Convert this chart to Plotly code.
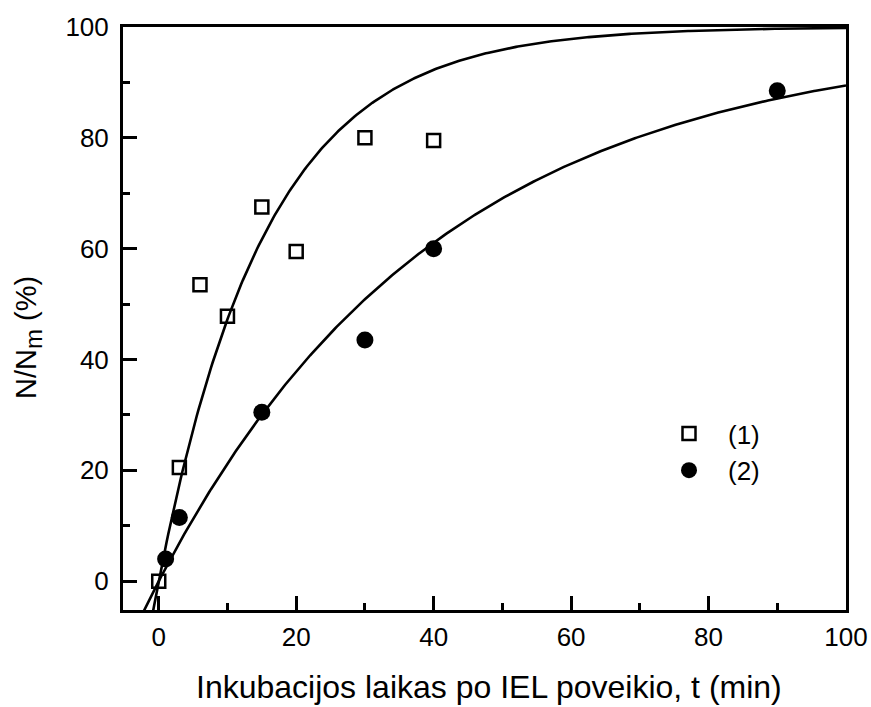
import numpy as np
import plotly.graph_objects as go

# Measured data (time in minutes, relative fraction in %)
t1 = [0, 3, 6, 10, 15, 20, 30, 40]
y1 = [0, 20.5, 53.5, 47.8, 67.5, 59.5, 80, 79.5]
t2 = [1, 3, 15, 30, 40, 90]
y2 = [4, 11.5, 30.5, 43.5, 60, 88.5]

# Exponential saturation fits: y = A * (1 - exp(-k * t))
fit1_A, fit1_k = 100.0, 0.064
fit2_A, fit2_k = 98.0, 0.0244

x_ticks = [0, 20, 40, 60, 80, 100]
y_ticks = [0, 20, 40, 60, 80, 100]

t_fit = np.linspace(-3, 100, 400)
f1 = fit1_A * (1 - np.exp(-fit1_k * t_fit))
f2 = fit2_A * (1 - np.exp(-fit2_k * t_fit))

FONT = "Liberation Sans, Arial, sans-serif"

# plot area in pixels
L, R, T, B = 123, 25, 27, 97
W, H = 871, 707
PW, PH = W - L - R, H - T - B

fig = go.Figure()
fig.add_trace(go.Scatter(x=t_fit, y=f1, mode="lines", line=dict(color="black", width=2.6),
                         showlegend=False, hoverinfo="skip"))
fig.add_trace(go.Scatter(x=t_fit, y=f2, mode="lines", line=dict(color="black", width=2.6),
                         showlegend=False, hoverinfo="skip"))
fig.add_trace(go.Scatter(x=t1, y=y1, mode="markers", name="(1)",
                         marker=dict(symbol="square-open", size=13, color="black",
                                     line=dict(color="black", width=2.5))))
fig.add_trace(go.Scatter(x=t2, y=y2, mode="markers", name="(2)",
                         marker=dict(symbol="circle", size=17, color="black")))

axis_common = dict(
    showgrid=False, zeroline=False, showline=True, linecolor="black", linewidth=3,
    mirror=True, ticks="inside", ticklen=14, tickwidth=2.5, tickcolor="black",
    tickfont=dict(family=FONT, size=26, color="black"), automargin=False,
    minor=dict(ticks="inside", ticklen=7, tickwidth=2.5, tickcolor="black", dtick=10),
)

fig.update_layout(
    width=W, height=H,
    margin=dict(l=L, r=R, t=T, b=B, autoexpand=False),
    paper_bgcolor="white", plot_bgcolor="white",
    font=dict(family=FONT, color="black"),
    xaxis=dict(range=[-5.2, 100], tickvals=x_ticks, ticklabelstandoff=2, **axis_common),
    yaxis=dict(range=[-5.2, 100], tickvals=y_ticks, ticklabelstandoff=6, **axis_common),
    legend=dict(x=(689 - 39 - L) / PW, y=(H - B - 410) / PH, xanchor="left", yanchor="top",
                font=dict(family=FONT, size=26), bgcolor="rgba(0,0,0,0)",
                tracegroupgap=0, itemwidth=68),
    annotations=[
        dict(text="N/N<sub><span style='font-size:24px'>m</span></sub> (%)",
             textangle=-90, xref="paper", yref="paper",
             x=-(L - 28) / PW, y=(H - B - 338) / PH, xanchor="center", yanchor="middle",
             showarrow=False, font=dict(family=FONT, size=29, color="black")),
        dict(text="Inkubacijos laikas po IEL poveikio, t (min)",
             xref="paper", yref="paper",
             x=((192 + 785) / 2 - L) / PW, y=-(706 - (H - B)) / PH,
             xanchor="center", yanchor="bottom", borderpad=0,
             showarrow=False, font=dict(family=FONT, size=32, color="black")),
    ],
)

fig.write_html("out.html")
